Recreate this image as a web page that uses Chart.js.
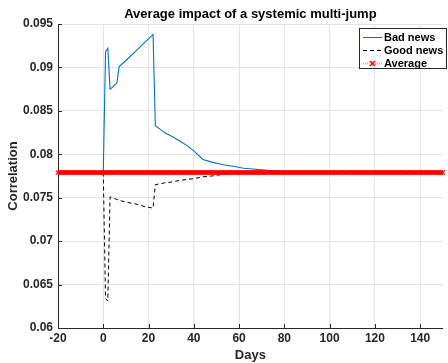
<!DOCTYPE html>
<html>
<head>
<meta charset="utf-8">
<script src="https://cdn.jsdelivr.net/npm/chart.js@4/dist/chart.umd.min.js"></script>
<style>
  html, body { margin: 0; padding: 0; background: #fff; }
  #wrap { width: 448px; height: 363px; }
</style>
</head>
<body>
<div id="wrap"><canvas id="chart" width="448" height="363"></canvas></div>
<script>
// --- Datos ---
const chartTitle = 'Average impact of a systemic multi-jump';
const xTitle = 'Days';
const yTitle = 'Correlation';

const newsDays = [0, 1, 2, 3, 4, 5, 6, 7, 10, 14, 18, 22, 23, 25, 27, 30, 34, 37, 40, 44, 48, 53, 58, 62, 66, 70, 75, 80, 90, 100, 120, 150];
const badNews  = [0.0779, 0.0918, 0.0922, 0.0875, 0.0877, 0.0880, 0.0882, 0.0901, 0.0908, 0.0918, 0.0928, 0.0938,
                  0.0833, 0.0829, 0.0825, 0.0821, 0.0815, 0.0810, 0.0804, 0.0794, 0.0791, 0.0788, 0.0786, 0.0784,
                  0.0783, 0.0782, 0.0781, 0.0780, 0.0779, 0.0779, 0.0779, 0.0779];
const goodNews = [0.0779, 0.0634, 0.0631, 0.0751, 0.0750, 0.0749, 0.0748, 0.0747, 0.0745, 0.0743, 0.0740, 0.0738,
                  0.0765, 0.0766, 0.0767, 0.0768, 0.0770, 0.0771, 0.0772, 0.0774, 0.0775, 0.0777, 0.0778, 0.0779,
                  0.0779, 0.0779, 0.0779, 0.0779, 0.0779, 0.0779, 0.0779, 0.0779];

const avgDays = [-20, -19, -18, -17, -16, -15, -14, -13, -12, -11, -10, -9, -8, -7, -6, -5, -4, -3, -2, -1,
  0, 1, 2, 3, 4, 5, 6, 7, 8, 9, 10, 11, 12, 13, 14, 15, 16, 17, 18, 19, 20, 21, 22, 23, 24, 25, 26, 27, 28, 29,
  30, 31, 32, 33, 34, 35, 36, 37, 38, 39, 40, 41, 42, 43, 44, 45, 46, 47, 48, 49, 50, 51, 52, 53, 54, 55, 56, 57, 58, 59,
  60, 61, 62, 63, 64, 65, 66, 67, 68, 69, 70, 71, 72, 73, 74, 75, 76, 77, 78, 79, 80, 81, 82, 83, 84, 85, 86, 87, 88, 89,
  90, 91, 92, 93, 94, 95, 96, 97, 98, 99, 100, 101, 102, 103, 104, 105, 106, 107, 108, 109, 110, 111, 112, 113, 114, 115,
  116, 117, 118, 119, 120, 121, 122, 123, 124, 125, 126, 127, 128, 129, 130, 131, 132, 133, 134, 135, 136, 137, 138, 139,
  140, 141, 142, 143, 144, 145, 146, 147, 148, 149, 150];
const avgValues = [0.0779, 0.0779, 0.0779, 0.0779, 0.0779, 0.0779, 0.0779, 0.0779, 0.0779, 0.0779, 0.0779, 0.0779, 0.0779, 0.0779, 0.0779, 0.0779, 0.0779, 0.0779, 0.0779, 0.0779,
  0.0779, 0.0779, 0.0779, 0.0779, 0.0779, 0.0779, 0.0779, 0.0779, 0.0779, 0.0779, 0.0779, 0.0779, 0.0779, 0.0779, 0.0779, 0.0779, 0.0779, 0.0779, 0.0779, 0.0779,
  0.0779, 0.0779, 0.0779, 0.0779, 0.0779, 0.0779, 0.0779, 0.0779, 0.0779, 0.0779, 0.0779, 0.0779, 0.0779, 0.0779, 0.0779, 0.0779, 0.0779, 0.0779, 0.0779, 0.0779,
  0.0779, 0.0779, 0.0779, 0.0779, 0.0779, 0.0779, 0.0779, 0.0779, 0.0779, 0.0779, 0.0779, 0.0779, 0.0779, 0.0779, 0.0779, 0.0779, 0.0779, 0.0779, 0.0779, 0.0779,
  0.0779, 0.0779, 0.0779, 0.0779, 0.0779, 0.0779, 0.0779, 0.0779, 0.0779, 0.0779, 0.0779, 0.0779, 0.0779, 0.0779, 0.0779, 0.0779, 0.0779, 0.0779, 0.0779, 0.0779,
  0.0779, 0.0779, 0.0779, 0.0779, 0.0779, 0.0779, 0.0779, 0.0779, 0.0779, 0.0779, 0.0779, 0.0779, 0.0779, 0.0779, 0.0779, 0.0779, 0.0779, 0.0779, 0.0779, 0.0779,
  0.0779, 0.0779, 0.0779, 0.0779, 0.0779, 0.0779, 0.0779, 0.0779, 0.0779, 0.0779, 0.0779, 0.0779, 0.0779, 0.0779, 0.0779, 0.0779, 0.0779, 0.0779, 0.0779, 0.0779,
  0.0779, 0.0779, 0.0779, 0.0779, 0.0779, 0.0779, 0.0779, 0.0779, 0.0779, 0.0779, 0.0779, 0.0779, 0.0779, 0.0779, 0.0779, 0.0779, 0.0779, 0.0779, 0.0779, 0.0779,
  0.0779, 0.0779, 0.0779, 0.0779, 0.0779, 0.0779, 0.0779, 0.0779, 0.0779, 0.0779, 0.0779];

const xTicks = [-20, 0, 20, 40, 60, 80, 100, 120, 140];
const yTicks = [0.06, 0.065, 0.07, 0.075, 0.08, 0.085, 0.09, 0.095];

// --- Estilos ---
const FONT = '"Liberation Sans", Arial, Helvetica, sans-serif';
const INK = '#262626';
const GRID = '#e3e3e3';
const BLUE = '#0072BD';
const RED = '#ff0000';

function toPoints(xs, ys) {
    return xs.map((x, i) => ({ x: x, y: ys[i] }));
}

// Título, leyenda y marcas interiores estilo MATLAB
const decorPlugin = {
    id: 'decor',
    afterDatasetsDraw(chart) {
        const ctx = chart.ctx;
        const area = chart.chartArea;
        const xs = chart.scales.x;
        const ys = chart.scales.y;
        ctx.save();

        // marcas hacia dentro
        ctx.strokeStyle = INK;
        ctx.lineWidth = 1;
        ctx.beginPath();
        xTicks.forEach(v => {
            const px = Math.round(xs.getPixelForValue(v)) + 0.5;
            ctx.moveTo(px, area.bottom);
            ctx.lineTo(px, area.bottom - 4);
        });
        yTicks.forEach(v => {
            const py = Math.round(ys.getPixelForValue(v)) + 0.5;
            ctx.moveTo(area.left, py);
            ctx.lineTo(area.left + 4, py);
        });
        ctx.stroke();

        // título
        ctx.fillStyle = '#000';
        ctx.font = 'bold 13px ' + FONT;
        ctx.textAlign = 'center';
        ctx.textBaseline = 'middle';
        ctx.fillText(chartTitle, (area.left + area.right) / 2, 14);

        // leyenda
        const bx = 359.5, by = 28.5, bw = 87, bh = 40;
        ctx.fillStyle = '#fff';
        ctx.fillRect(bx, by, bw, bh);
        ctx.strokeStyle = INK;
        ctx.lineWidth = 1;
        ctx.strokeRect(bx, by, bw, bh);

        const rows = [
            { label: 'Bad news', y: 37 },
            { label: 'Good news', y: 50 },
            { label: 'Average', y: 63 }
        ];
        ctx.lineWidth = 1;
        ctx.strokeStyle = BLUE;
        ctx.beginPath();
        ctx.moveTo(363, rows[0].y + 0.5); ctx.lineTo(382, rows[0].y + 0.5);
        ctx.stroke();
        ctx.strokeStyle = '#000';
        ctx.setLineDash([4, 3]);
        ctx.beginPath();
        ctx.moveTo(363, rows[1].y + 0.5); ctx.lineTo(382, rows[1].y + 0.5);
        ctx.stroke();
        ctx.strokeStyle = 'rgba(255,0,0,0.4)';
        ctx.lineWidth = 2;
        ctx.setLineDash([1, 1]);
        ctx.beginPath();
        ctx.moveTo(363, rows[2].y + 0.5); ctx.lineTo(382, rows[2].y + 0.5);
        ctx.stroke();
        ctx.setLineDash([]);
        ctx.strokeStyle = RED;
        ctx.lineWidth = 1.5;
        ctx.beginPath();
        ctx.moveTo(370, rows[2].y - 2); ctx.lineTo(375, rows[2].y + 3);
        ctx.moveTo(375, rows[2].y - 2); ctx.lineTo(370, rows[2].y + 3);
        ctx.stroke();

        ctx.fillStyle = '#000';
        ctx.font = 'bold 11px ' + FONT;
        ctx.textAlign = 'left';
        rows.forEach(r => ctx.fillText(r.label, 384, r.y + 0.5));
        ctx.restore();
    }
};

const ctx = document.getElementById('chart').getContext('2d');
new Chart(ctx, {
    type: 'line',
    data: {
        datasets: [{
            label: 'Bad news',
            data: toPoints(newsDays, badNews),
            borderColor: BLUE,
            borderWidth: 1.1,
            pointRadius: 0,
            tension: 0,
            order: 1
        }, {
            label: 'Good news',
            data: toPoints(newsDays, goodNews),
            borderColor: '#000',
            borderWidth: 1,
            borderDash: [4, 3],
            pointRadius: 0,
            tension: 0,
            order: 2
        }, {
            label: 'Average',
            data: toPoints(avgDays, avgValues),
            borderColor: RED,
            borderWidth: 4,
            pointStyle: 'crossRot',
            pointRadius: 3,
            pointBorderWidth: 1.2,
            pointBorderColor: RED,
            pointBackgroundColor: RED,
            tension: 0,
            clip: 4,
            order: -1
        }]
    },
    options: {
        responsive: false,
        animation: false,
        layout: { padding: { top: 24, right: 0, bottom: 0, left: 0 } },
        plugins: {
            legend: { display: false },
            tooltip: { enabled: false },
            title: { display: false }
        },
        scales: {
            x: {
                type: 'linear',
                min: -20,
                max: 150,
                afterFit: scale => { scale.height = 35; },
                afterBuildTicks: scale => { scale.ticks = xTicks.map(v => ({ value: v })); },
                ticks: {
                    color: INK,
                    font: { family: FONT, size: 12, weight: 'bold' },
                    padding: 3,
                    maxRotation: 0,
                    autoSkip: false
                },
                grid: { color: GRID, drawTicks: false },
                border: { color: INK },
                title: {
                    display: true,
                    text: xTitle,
                    color: INK,
                    font: { family: FONT, size: 13, weight: 'bold' },
                    padding: { top: 1, bottom: 0 }
                }
            },
            y: {
                type: 'linear',
                min: 0.06,
                max: 0.095,
                afterFit: scale => { scale.width = 58; },
                afterBuildTicks: scale => { scale.ticks = yTicks.map(v => ({ value: v })); },
                ticks: {
                    color: INK,
                    font: { family: FONT, size: 12, weight: 'bold' },
                    padding: 5,
                    callback: v => String(Number(v.toFixed(3)))
                },
                grid: { color: GRID, drawTicks: false },
                border: { color: INK },
                title: {
                    display: true,
                    text: yTitle,
                    color: INK,
                    font: { family: FONT, size: 13, weight: 'bold' },
                    padding: { top: 6, bottom: 0 }
                }
            }
        }
    },
    plugins: [decorPlugin]
});
</script>
</body>
</html>
